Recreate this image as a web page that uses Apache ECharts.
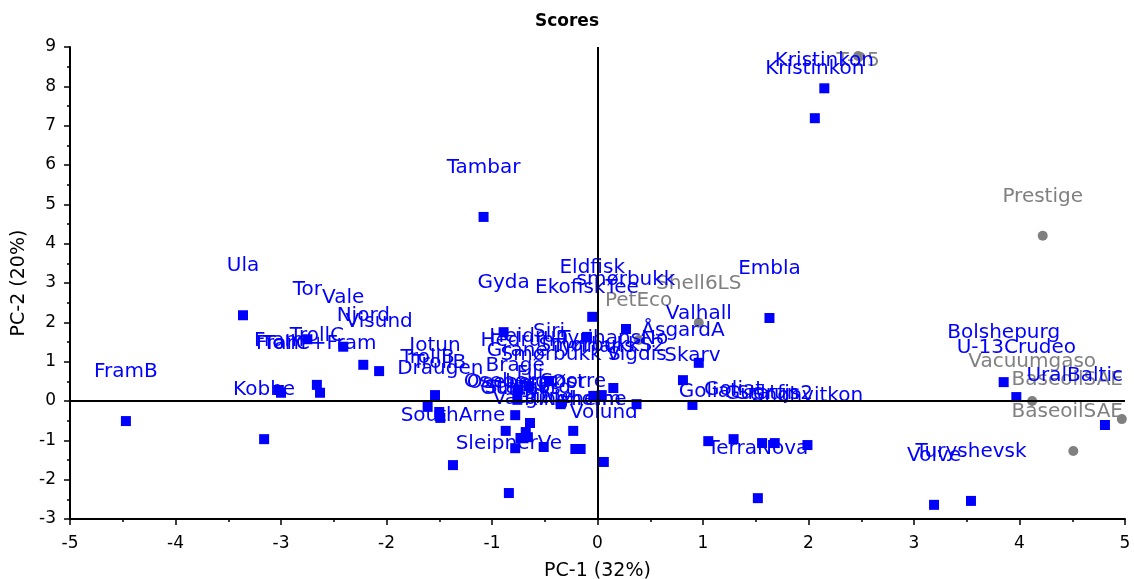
<!DOCTYPE html>
<html><head><meta charset="utf-8">
<script src="https://cdn.jsdelivr.net/npm/echarts@6/dist/echarts.min.js"></script>
<style>html,body{margin:0;padding:0;background:#fff}#c{width:1134px;height:579px}</style>
</head><body><div id="c"></div>
<script>
// Blue samples (crude oils)
const blueNames = ['FramB','Kobbe','Ula','Fram','Fram','Tor','TrollC','TollC+Fram','Vale','Njord','Visund',
  'Tambar','Gyda','Eldfisk','EkofiskTee','smørbukk','Embla','Valhall','ÅsgardA','Skarv',
  'Jotun','TrollB','TrollB','Draugen','Siri','Hedrun','Heidrun','Grane','Smørbukk S','Tyrihans','SmørbukkS2','TyrihansNo','Vigdis',
  'Oseberg','OsebergØst','Statfjord','Gullfaks','Fili','Brage','Snorre','Glitne','Varg','Ringhorne','Alvheim','Volund',
  'SouthArne','SleipnerVe','Goliat','Goliat','Gudrun','Statfjs2','Snøhvitkon','TerraNova','Kristinkon','Kristinkon',
  'Bolshepurg','U-13Crudeo','UralBaltic','Turyshevsk','Volve'];
const blueX = [-4.47,-3.16,-3.36,-3.02,-3.00,-2.75,-2.66,-2.63,-2.41,-2.22,-2.07,
  -1.08,-0.89,-0.05,-0.10,0.27,1.63,0.96,0.81,0.90,
  -1.54,-1.61,-1.50,-1.49,-0.46,-0.76,-0.65,-0.76,-0.35,-0.04,0.04,0.15,0.37,
  -0.87,-0.68,-0.66,-0.73,-0.64,-0.78,-0.23,-0.51,-0.78,-0.21,-0.16,0.06,
  -1.37,-0.84,1.05,1.29,1.56,1.68,1.99,1.52,2.15,2.06,
  3.85,3.97,4.81,3.54,3.19];
const blueY = [-0.51,-0.97,2.18,0.28,0.21,1.57,0.41,0.21,1.38,0.92,0.76,
  4.68,1.75,2.14,1.63,1.83,2.11,0.97,0.53,-0.10,
  0.15,-0.15,-0.28,-0.43,0.51,0.28,0.38,0.03,-0.08,0.13,0.15,0.33,-0.08,
  -0.76,-0.79,-0.92,-0.94,-0.56,-0.36,-0.76,-1.17,-1.20,-1.22,-1.22,-1.55,
  -1.63,-2.34,-1.02,-0.97,-1.07,-1.07,-1.12,-2.47,7.95,7.19,
  0.48,0.10,-0.61,-2.54,-2.64];
// Grey samples (products)
const grayNames = ['T-25','Prestige','Shell6LS','PetEco','Vacuumgaso','BaseoilSAE','BaseoilSAE'];
const grayX = [2.47,4.22,0.96,0.39,4.12,4.97,4.51];
const grayY = [8.77,4.20,1.99,1.55,0.00,-0.46,-1.27];

const xMin = -5, xMax = 5, yMin = -3, yMax = 9;

function pts(n, xs, ys){ return n.map((name,i)=>({name:name, value:[xs[i], ys[i]]})); }

const GRID = {left:70, right:9, top:47, bottom:60};
const W = 1134, H = 579;
function keepInside(p){
  const r = p.labelRect; let dx = 0, dy = 0;
  const right = W - GRID.right - 2, top = GRID.top + 4;
  if (r.x + r.width > right) dx = right - (r.x + r.width);
  if (r.y < top) dy = top - r.y;
  return {dx:dx, dy:dy};
}
const FONT = 'DejaVu Sans';
const chart = echarts.init(document.getElementById('c'), null, {renderer:'canvas'});
chart.setOption({
  animation:false,
  backgroundColor:'#fff',
  title:{text:'Scores', left:'center', top:8, textStyle:{fontFamily:FONT, fontSize:17, fontWeight:'bold', color:'#000'}},
  grid:{left:GRID.left, right:GRID.right, top:GRID.top, bottom:GRID.bottom, containLabel:false, outerBoundsMode:'none'},
  xAxis:{type:'value', min:xMin, max:xMax, interval:1, name:'PC-1 (32%)', nameLocation:'middle', nameGap:43,
    nameTextStyle:{fontFamily:FONT, fontSize:19, color:'#000'},
    axisLine:{show:true, onZero:false, lineStyle:{color:'#000', width:2}},
    axisTick:{show:true, inside:false, length:6, lineStyle:{color:'#000', width:1.5}},
    minorTick:{show:true, splitNumber:2, length:3, lineStyle:{color:'#000', width:1.5}},
    axisLabel:{fontFamily:FONT, fontSize:17, color:'#000', margin:16},
    splitLine:{show:false}},
  yAxis:{type:'value', min:yMin, max:yMax, interval:1, name:'PC-2 (20%)', nameLocation:'middle', nameGap:33, nameRotate:90,
    nameTextStyle:{fontFamily:FONT, fontSize:19, color:'#000'},
    axisLine:{show:true, onZero:false, lineStyle:{color:'#000', width:2}},
    axisTick:{show:true, inside:false, length:6, lineStyle:{color:'#000', width:1.5}},
    minorTick:{show:true, splitNumber:2, length:3, lineStyle:{color:'#000', width:1.5}},
    axisLabel:{fontFamily:FONT, fontSize:17, color:'#000', margin:14},
    splitLine:{show:false}},
  series:[
    {type:'scatter', name:'grey', symbol:'circle', symbolSize:10, itemStyle:{color:'#808080', opacity:1},
     data:pts(grayNames, grayX, grayY),
     label:{show:true, position:'top', distance:24, formatter:'{b}', color:'#808080', opacity:1, fontFamily:FONT, fontSize:20},
     labelLayout:keepInside},
    {type:'scatter', name:'blue', symbol:'rect', symbolSize:10, itemStyle:{color:'#0000ff', opacity:1},
     data:pts(blueNames, blueX, blueY),
     label:{show:true, position:'top', distance:34, formatter:'{b}', color:'#0000ff', opacity:1, fontFamily:FONT, fontSize:20},
     labelLayout:keepInside,
     markLine:{silent:true, symbol:['none','none'], label:{show:false}, lineStyle:{color:'#000', width:2, type:'solid', opacity:1},
       data:[{xAxis:0},{yAxis:0}]}}
  ]
});
</script></body></html>
